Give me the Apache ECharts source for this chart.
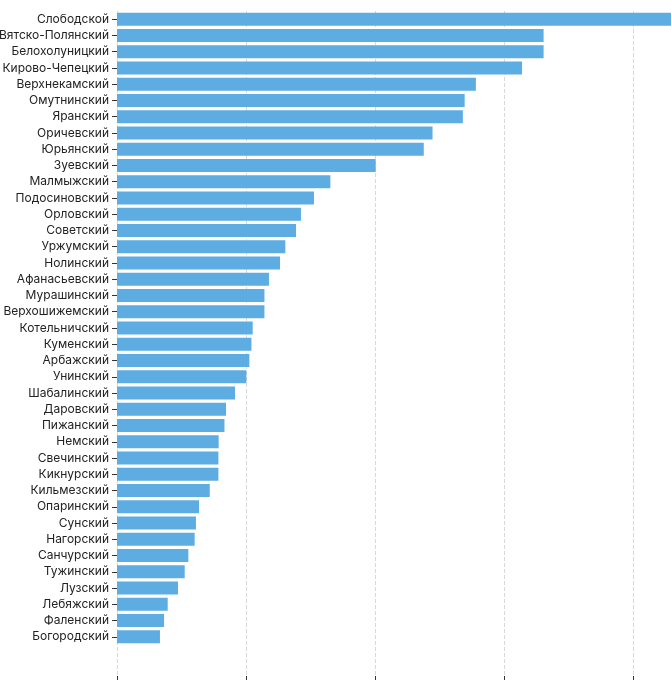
<!DOCTYPE html>
<html>
<head>
    <meta charset="UTF-8">
    <title>Районы</title>
    <style>
        body,
        html {
            width: 100%;
            height: 100%;
            margin: 0;
            padding: 0;
            overflow: hidden;
            background: #fff;
        }
        #myChart {
            width: 671px;
            height: 680px;
        }
    </style>
    <script src="https://cdn.jsdelivr.net/npm/echarts@6/dist/echarts.min.js"></script>
</head>
<body>
    <div id="myChart"></div>
    <script>
        // 数据
        let districts = [
            "Слободской", "Вятско-Полянский", "Белохолуницкий", "Кирово-Чепецкий", "Верхнекамский",
            "Омутнинский", "Яранский", "Оричевский", "Юрьянский", "Зуевский",
            "Малмыжский", "Подосиновский", "Орловский", "Советский", "Уржумский",
            "Нолинский", "Афанасьевский", "Мурашинский", "Верхошижемский", "Котельничский",
            "Куменский", "Арбажский", "Унинский", "Шабалинский", "Даровский",
            "Пижанский", "Немский", "Свечинский", "Кикнурский", "Кильмезский",
            "Опаринский", "Сунский", "Нагорский", "Санчурский", "Тужинский",
            "Лузский", "Лебяжский", "Фаленский", "Богородский"
        ];
        let values = [
            460, 330.7, 330.7, 314, 278.2,
            269.5, 268.1, 244.6, 237.8, 200.5,
            165.4, 152.7, 142.6, 138.8, 130.5,
            126.4, 117.8, 114.3, 114.3, 105.2,
            104.2, 102.6, 100.3, 91.5, 84.5,
            83.3, 78.8, 78.6, 78.6, 71.9,
            63.6, 61.2, 60.2, 55.3, 52.5,
            47.3, 39.3, 36.5, 33.3
        ];
        let xTicks = [0, 100, 200, 300, 400, 500];

        let myEcharts = echarts.init(document.querySelector('#myChart'), null, { renderer: 'canvas' });

        let xMin = xTicks[0];
        let xMax = xTicks[xTicks.length - 1];
        let xStep = xTicks[1] - xTicks[0];

        let option = {
            animation: false,
            textStyle: { fontFamily: 'Inter, "Noto Sans", sans-serif' },
            grid: [
                // 柱状图区域（右侧超出画布，与原图一致）
                { left: 117, right: -91, top: 11, height: 634, outerBoundsMode: 'none', containLabel: false },
                // 网格线与底部刻度
                { left: 117, right: -91, top: 11, bottom: 4, outerBoundsMode: 'none', containLabel: false }
            ],
            xAxis: [
                {
                    gridIndex: 0, type: 'value', min: xMin, max: xMax, interval: xStep,
                    show: false
                },
                {
                    gridIndex: 1, type: 'value', min: xMin, max: xMax, interval: xStep,
                    axisLine: { show: false },
                    axisTick: { show: true, length: 5, lineStyle: { color: '#333' } },
                    axisLabel: { color: '#333', fontSize: 12 },
                    splitLine: { show: true, lineStyle: { color: '#d9d9d9', type: 'dashed', width: 1 } }
                }
            ],
            yAxis: [
                {
                    gridIndex: 0, type: 'category', inverse: true, data: districts,
                    axisLine: { show: false },
                    axisTick: { show: true, alignWithLabel: true, length: 5, lineStyle: { color: '#333' } },
                    axisLabel: { color: '#222', fontSize: 12, margin: 8 }
                },
                { gridIndex: 1, type: 'value', show: false }
            ],
            series: [
                {
                    type: 'bar',
                    xAxisIndex: 0,
                    yAxisIndex: 0,
                    data: values,
                    barCategoryGap: '20%',
                    itemStyle: { color: '#5dade2' }
                }
            ]
        };
        myEcharts.setOption(option, true);

        window.addEventListener("resize", () => {
            myEcharts.resize();
        });
    </script>
</body>
</html>
